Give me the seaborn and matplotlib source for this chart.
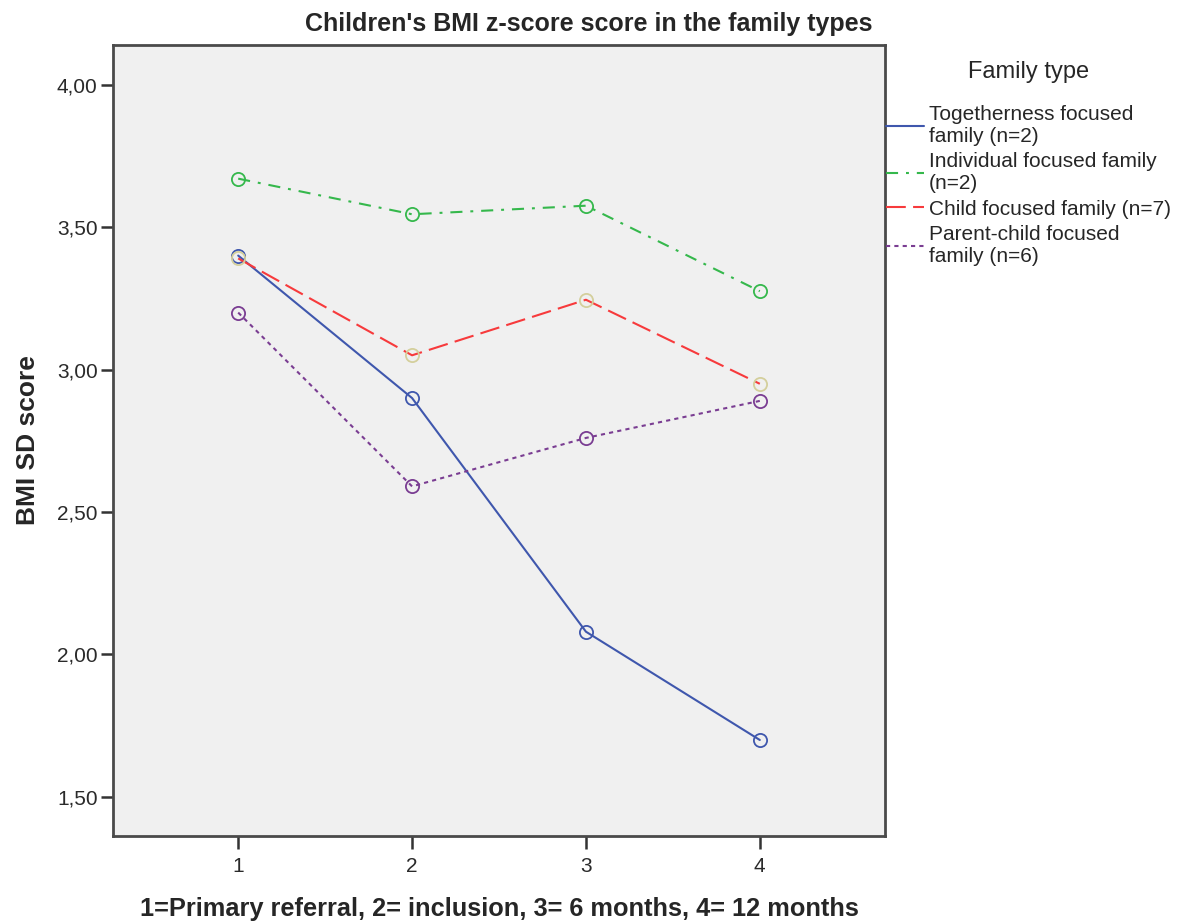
import matplotlib
matplotlib.use("Agg")
import matplotlib.pyplot as plt
from matplotlib.lines import Line2D
from matplotlib.ticker import FuncFormatter
import pandas as pd
import seaborn as sns

# Values
time_points = [1, 2, 3, 4]
togetherness = [3.40, 2.90, 2.08, 1.70]
individual = [3.67, 3.545, 3.575, 3.275]
child = [3.39, 3.05, 3.245, 2.95]
parent_child = [3.20, 2.59, 2.76, 2.89]

labels = [
    "Togetherness focused\nfamily (n=2)",
    "Individual focused family\n(n=2)",
    "Child focused family (n=7)",
    "Parent-child focused\nfamily (n=6)",
]
line_colors = ["#3f57ad", "#35b84c", "#f73a3c", "#7a3d92"]
marker_colors = ["#3f57ad", "#35b84c", "#d4cf9c", "#7a3d92"]
dash_styles = ["-", (0, (5.8, 3.8, 1.4, 3.8)), (0, (9.5, 3.5)), (0, (2, 2))]

df = pd.DataFrame({
    "time": time_points * 4,
    "score": togetherness + individual + child + parent_child,
    "family": [l for l in labels for _ in time_points],
})

sns.set_style("white")
plt.rcParams["font.family"] = ["Liberation Sans", "DejaVu Sans"]

fig = plt.figure(figsize=(11.78, 9.23), dpi=100)
ax = fig.add_axes([113 / 1178, 1 - 836 / 923, (885 - 113) / 1178, (836 - 45) / 923])
ax.set_facecolor("#f0f0f0")

for lab, lc, mc, ds in zip(labels, line_colors, marker_colors, dash_styles):
    sub = df[df["family"] == lab]
    sns.lineplot(data=sub, x="time", y="score", ax=ax, color=lc,
                 linestyle=ds, linewidth=1.5, legend=False)
    ax.plot(sub["time"], sub["score"], linestyle="none", marker="o",
            markersize=9.5, markerfacecolor="none", markeredgecolor=mc,
            markeredgewidth=1.3)

ax.set_xlim(0.28, 4.72)
ax.set_ylim(1.363, 4.139)
ax.set_xticks(time_points)
ax.set_yticks([1.5, 2.0, 2.5, 3.0, 3.5, 4.0])
ax.yaxis.set_major_formatter(FuncFormatter(lambda v, p: f"{v:.2f}".replace(".", ",")))
ax.tick_params(axis="both", direction="out", length=9, width=1.8, color="#333333",
               labelsize=15, labelcolor="#2a2a2a", left=True, bottom=True, pad=2)
ax.tick_params(axis="x", pad=6)
for s in ax.spines.values():
    s.set_color("#4a4a4a")
    s.set_linewidth(2)

fig.text(0.5, 1 - 24 / 923, "Children's BMI z-score score in the family types",
         fontsize=18, fontweight="bold", ha="center", va="center")
ax.set_ylabel("BMI SD score", fontsize=19, fontweight="bold", labelpad=12)
ax.set_xlabel("1=Primary referral, 2= inclusion, 3= 6 months, 4= 12 months",
              fontsize=18.3, fontweight="bold", labelpad=15)

handles = [Line2D([0], [0], color=c, linestyle=d, linewidth=1.5)
           for c, d in zip(line_colors, dash_styles)]
leg = fig.legend(handles, labels, loc="upper left",
                 bbox_to_anchor=(886 / 1178, 1 - 61 / 923), frameon=False,
                 title="Family type", title_fontsize=17, fontsize=15,
                 handlelength=1.8, handletextpad=0.25, labelspacing=0.32,
                 borderpad=0, borderaxespad=0)
for t in leg.get_texts():
    t.set_linespacing(1.17)
leg._legend_box.sep = 16

fig.savefig("out.png", dpi=100)
